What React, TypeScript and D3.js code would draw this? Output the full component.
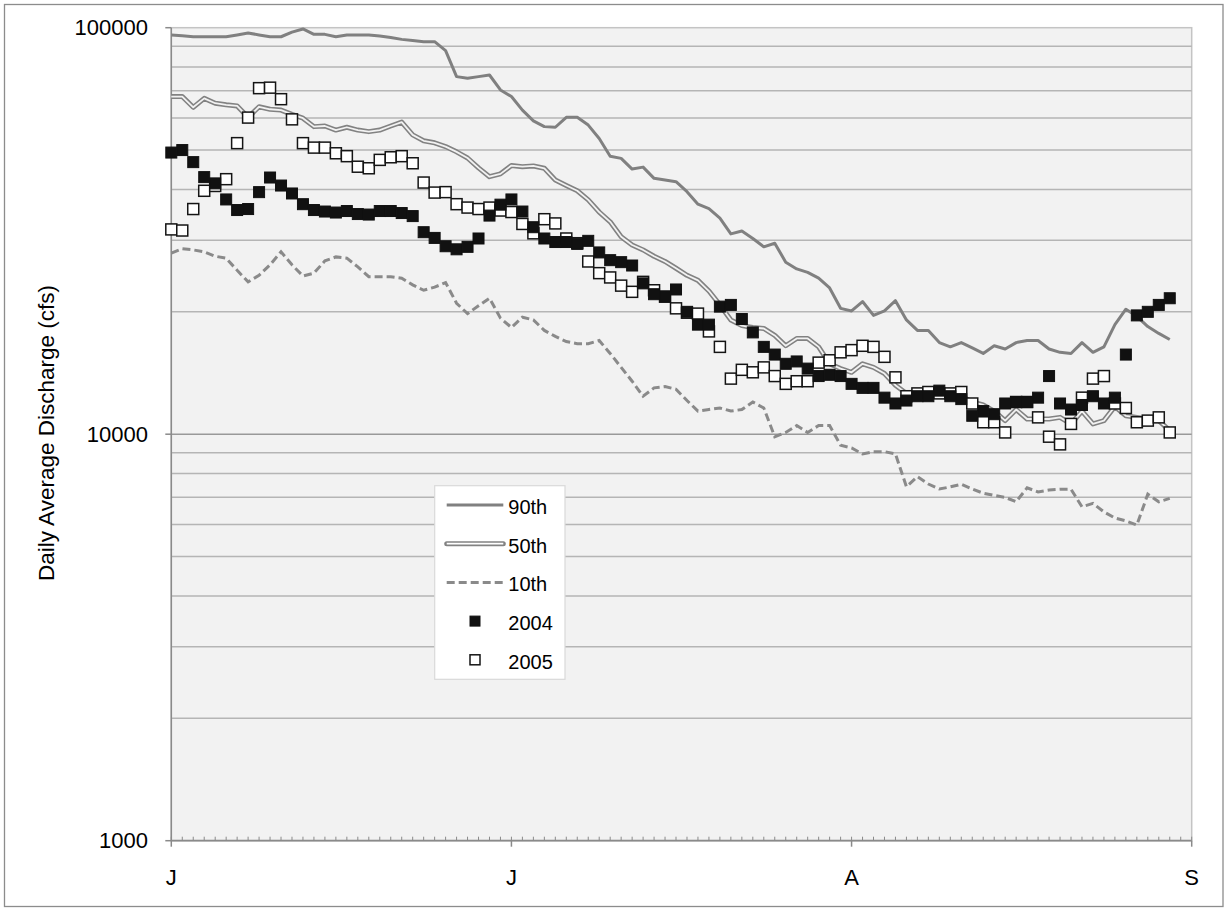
import React from "react";
import * as d3 from "d3";

// Daily flow percentiles and observed daily discharge (cfs), June 1 – Aug 31
const p90 = [
  96000, 95500, 95000, 95000, 95000, 95000, 96000, 97000, 96000, 95000,
  95000, 97500, 99300, 96300, 96300, 95000, 96000, 96000, 96000, 95400,
  94600, 93600, 93000, 92400, 92400, 87800, 75800, 75100, 75800, 76500,
  70300, 67700, 62700, 59000, 57100, 56900, 60200, 60200, 57600, 53400,
  48300, 47700, 44900, 45400, 42600, 42200, 41800, 39500, 36800, 35900,
  34000, 31100, 31600, 30300, 28900, 29500, 26500, 25500, 25000, 24200,
  22900, 20400, 20100, 21200, 19600, 20100, 21300, 19100, 18000, 18000,
  16800, 16400, 16800, 16300, 15800, 16500, 16200, 16800, 17000, 17000,
  16200, 15900, 15800, 16800, 15900, 16400, 18600, 20300, 19500, 18400,
  17700, 17100,
];

const p50 = [
  67700, 67700, 63700, 67000, 65200, 64600, 64200, 60200, 63900, 63000,
  62700, 61200, 59900, 57100, 57300, 56000, 56900, 56000, 55500, 56000,
  57300, 58600, 54500, 52700, 52100, 51000, 49500, 47800, 45200, 43000,
  43700, 45800, 45500, 45700, 45100, 42200, 40900, 39700, 37700, 35200,
  33300, 30600, 29200, 28400, 27400, 26600, 25600, 24600, 23900, 22500,
  20800, 19100, 18500, 18300, 18200, 17500, 16500, 17200, 17200, 16400,
  14900, 14500, 14200, 14900, 14600, 14100, 13200, 12600, 12700, 12700,
  12900, 12600, 12400, 12000, 11800, 11400, 10800, 11500, 10900, 10900,
  10900, 11000, 10600, 11400, 10600, 10800, 11700, 11100, 11000, 10900,
  10800, 10200,
];

const p10 = [
  27900, 28600, 28400, 28100, 27400, 27100, 25300, 23700, 24600, 26100,
  28100, 26100, 24500, 24900, 26700, 27300, 27100, 25800, 24400, 24400,
  24400, 24200, 23300, 22600, 23000, 23600, 21000, 19800, 20700, 21600,
  19300, 18300, 19400, 19100, 18000, 17400, 16900, 16700, 16700, 17000,
  15800, 14600, 13500, 12400, 13000, 13100, 12900, 12100, 11400, 11500,
  11600, 11400, 11500, 12000, 11600, 9860, 10100, 10500, 10100, 10500,
  10500, 9400, 9250, 8940, 9060, 9060, 8940, 7430, 7860, 7540,
  7330, 7420, 7530, 7330, 7160, 7070, 6990, 6820, 7380, 7210,
  7290, 7320, 7320, 6630, 6760, 6440, 6220, 6120, 5980, 7120,
  6820, 6950,
];

const flow2004 = [
  49300, 50000, 46700, 42900, 41400, 37800, 35600, 35800, 39400, 42800,
  40900, 39100, 36800, 35600, 35300, 35100, 35400, 34800, 34700, 35400,
  35400, 35000, 34400, 31400, 30400, 29000, 28500, 28900, 30300, 34500,
  36700, 37800, 35300, 32300, 30300, 29700, 29700, 29400, 29900, 28000,
  26800, 26500, 26000, 23500, 22100, 21800, 22700, 20000, 18600, 18600,
  20600, 20800, 19200, 17800, 16400, 15700, 14900, 15100, 14500, 13900,
  14000, 13900, 13300, 13000, 13000, 12300, 11900, 12100, 12400, 12400,
  12800, 12400, 12200, 11100, 11400, 11200, 11900, 12000, 12000, 12300,
  13900, 11900, 11500, 11800, 12400, 11900, 12300, 15700, 19600, 20000,
  20800, 21600,
];

const flow2005 = [
  31900, 31700, 35800, 39700, 40800, 42400, 52000, 60100, 71000, 71200,
  66700, 59500, 52000, 50700, 50700, 49100, 48300, 45500, 45100, 47300,
  48000, 48300, 46400, 41600, 39300, 39400, 36800, 36100, 35800, 36100,
  35500, 35200, 32900, 31200, 33800, 33000, 30300, 29500, 26600, 24900,
  24300, 23200, 22400, 23700, 22600, 21800, 20400, 19900, 19800, 17900,
  16400, 13700, 14400, 14200, 14600, 13900, 13300, 13500, 13500, 15000,
  15200, 15900, 16100, 16500, 16400, 15500, 13800, 12400, 12600, 12700,
  12600, 12600, 12700, 11900, 10700, 10700, 10100, 12000, 12000, 11000,
  9860, 9440, 10600, 12300, 13700, 13900, 11900, 11600, 10700, 10800,
  11000, 10100,
];

// Axis labels: month initials sit every 31 days on the day-offset axis
const monthLabels = ["J", "J", "A", "S"];
const monthTickDays = [0, 31, 62, 93];
const yTickValues = [1000, 10000, 100000];
const yTickLabels = ["1000", "10000", "100000"];

const legendItems = ["90th", "50th", "10th", "2004", "2005"];

const FONT = "'Liberation Sans', Arial, Helvetica, sans-serif";
const PLOT_BG = "#f2f2f2";
const LINE_GRAY = "#808080";

export default function App() {
  const left = 171.3;
  const right = 1191.7;
  const top = 27.7;
  const bottom = 840.7;

  const x = d3.scaleLinear().domain([0, 93]).range([left, right]);
  const y = d3.scaleLog().domain([1000, 100000]).range([bottom, top]);

  const linePath = (vals: number[]) =>
    d3
      .line<number>()
      .x((_, i) => x(i))
      .y((v) => y(v))(vals) || "";

  const minorGrid = [
    ...d3.range(2, 10).map((k) => k * 1000),
    ...d3.range(2, 10).map((k) => k * 10000),
  ];
  const dayTicks = d3.range(0, 94);

  const sq = 11;

  // legend geometry
  const lgX = 434.7;
  const lgY = 485.7;
  const lgW = 130.3;
  const lgH = 193.6;
  const rowY = (k: number) => 505 + k * 38.7;
  const sampleX0 = 446.7;
  const sampleX1 = 503.3;
  const textX = 508.3;

  return (
    <svg
      width={1225}
      height={911}
      style={{ position: "absolute", left: 0, top: 0, display: "block" }}
      fontFamily={FONT}
    >
      <rect x={0} y={0} width={1225} height={911} fill="#ffffff" />
      <rect
        x={4.5}
        y={4.5}
        width={1218.5}
        height={902}
        fill="none"
        stroke="#8c8c8c"
        strokeWidth={1.3}
      />

      {/* plot area */}
      <rect
        x={left}
        y={top}
        width={right - left}
        height={bottom - top}
        fill={PLOT_BG}
        stroke="#c4c4c4"
        strokeWidth={1.5}
      />

      {/* horizontal gridlines */}
      {minorGrid.map((v) => (
        <line
          key={"g" + v}
          x1={left}
          x2={right}
          y1={y(v)}
          y2={y(v)}
          stroke="#b5b5b5"
          strokeWidth={1.5}
        />
      ))}
      <line
        x1={left}
        x2={right}
        y1={y(10000)}
        y2={y(10000)}
        stroke="#999999"
        strokeWidth={1.5}
      />

      {/* axes */}
      <line x1={left} x2={left} y1={top} y2={bottom} stroke="#8a8a8a" strokeWidth={1.5} />
      <line x1={left} x2={right} y1={bottom} y2={bottom} stroke="#8a8a8a" strokeWidth={1.8} />
      {yTickValues.map((v) => (
        <line
          key={"yt" + v}
          x1={left - 6}
          x2={left}
          y1={y(v)}
          y2={y(v)}
          stroke="#8a8a8a"
          strokeWidth={1.5}
        />
      ))}
      {dayTicks.map((d) => (
        <line
          key={"dt" + d}
          x1={x(d)}
          x2={x(d)}
          y1={bottom - 4}
          y2={bottom}
          stroke="#8a8a8a"
          strokeWidth={1}
        />
      ))}
      {monthTickDays.map((d) => (
        <line
          key={"mt" + d}
          x1={x(d)}
          x2={x(d)}
          y1={bottom}
          y2={bottom + 6}
          stroke="#8a8a8a"
          strokeWidth={1.5}
        />
      ))}

      {/* tick labels */}
      {yTickValues.map((v, i) => (
        <text
          key={"yl" + v}
          x={148}
          y={y(v)}
          textAnchor="end"
          dominantBaseline="central"
          fontSize={22}
          fill="#000"
        >
          {yTickLabels[i]}
        </text>
      ))}
      {monthTickDays.map((d, i) => (
        <text
          key={"ml" + d}
          x={x(d)}
          y={877}
          textAnchor="middle"
          dominantBaseline="central"
          fontSize={22}
          fill="#000"
        >
          {monthLabels[i]}
        </text>
      ))}
      <text
        transform={`translate(46, 433) rotate(-90)`}
        textAnchor="middle"
        dominantBaseline="central"
        fontSize={22.5}
        fill="#000"
      >
        Daily Average Discharge (cfs)
      </text>

      {/* percentile lines */}
      <path d={linePath(p10)} fill="none" stroke="#8a8a8a" strokeWidth={3} strokeDasharray="8,4" />
      <path d={linePath(p50)} fill="none" stroke="#828282" strokeWidth={5} strokeLinejoin="round" />
      <path d={linePath(p50)} fill="none" stroke={PLOT_BG} strokeWidth={1.8} strokeLinejoin="round" />
      <path d={linePath(p90)} fill="none" stroke={LINE_GRAY} strokeWidth={3} strokeLinejoin="round" />

      {/* observed years */}
      {flow2005.map((v, i) => (
        <rect
          key={"o5" + i}
          x={x(i) - sq / 2}
          y={y(v) - sq / 2}
          width={sq}
          height={sq}
          fill="#ffffff"
          stroke="#151515"
          strokeWidth={1.5}
        />
      ))}
      {flow2004.map((v, i) => (
        <rect
          key={"o4" + i}
          x={x(i) - sq / 2}
          y={y(v) - sq / 2}
          width={sq}
          height={sq}
          fill="#111111"
          stroke="#111111"
          strokeWidth={1}
        />
      ))}

      {/* legend */}
      <rect
        x={lgX}
        y={lgY}
        width={lgW}
        height={lgH}
        fill="#ffffff"
        stroke="#d9d9d9"
        strokeWidth={1.2}
      />
      <line x1={sampleX0} x2={sampleX1} y1={rowY(0)} y2={rowY(0)} stroke={LINE_GRAY} strokeWidth={3} />
      <line x1={sampleX0} x2={sampleX1} y1={rowY(1)} y2={rowY(1)} stroke="#828282" strokeWidth={5} strokeLinecap="round" />
      <line x1={sampleX0} x2={sampleX1} y1={rowY(1)} y2={rowY(1)} stroke="#ffffff" strokeWidth={1.8} />
      <line x1={sampleX0} x2={sampleX1} y1={rowY(2)} y2={rowY(2)} stroke="#8a8a8a" strokeWidth={3} strokeDasharray="8,4" />
      <rect x={475 - 5} y={rowY(3) - 5} width={10} height={10} fill="#111" stroke="#111" strokeWidth={1} />
      <rect x={475 - 5} y={rowY(4) - 5} width={10} height={10} fill="#fff" stroke="#151515" strokeWidth={1.5} />
      {legendItems.map((t, k) => (
        <text
          key={"lg" + t}
          x={textX}
          y={rowY(k) + 2}
          dominantBaseline="central"
          fontSize={20}
          fill="#000"
        >
          {t}
        </text>
      ))}
    </svg>
  );
}
